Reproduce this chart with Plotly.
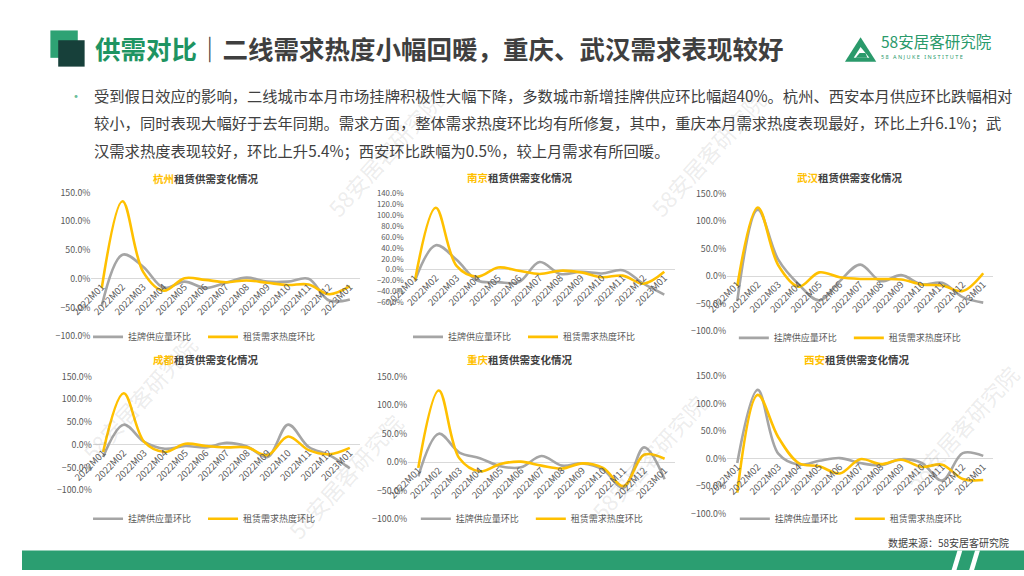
import plotly.graph_objects as go

W, H = 1024, 576

months = ["2022M01", "2022M02", "2022M03", "2022M04", "2022M05", "2022M06", "2022M07",
          "2022M08", "2022M09", "2022M10", "2022M11", "2022M12", "2023M01"]
cities = ["杭州", "南京", "武汉", "成都", "重庆", "西安"]
supply_name = "挂牌供应量环比"
demand_name = "租赁需求热度环比"

# values in percent
supply_hangzhou = [-47, 42, 21, -16, -5, -16, -7, 2, -5, -5, 0, -38, -36]
demand_hangzhou = [-16, 135, 12, -21, 1, -2, -6, -3, -7, -11, -10, -27, -13]
supply_nanjing = [-20, 45, 18, -20, -23, -23, 14, -8, -4, -7, -1, -26, -46]
demand_nanjing = [-20, 114, 7, -13, 4, -2, -8, -2, -5, -14, -11, -26, -4]
supply_wuhan = [-45, 121, 30, -15, -44, -9, 21, -9, 2, -15, -12, -38, -48]
demand_wuhan = [-18, 125, 20, -19, 7, -2, -5, -5, -6, -15, -17, -27, 5.4]
supply_chengdu = [-27, 44, 6, -9, -3, -6, 4, -4, -27, 44, -5, -23, -52]
demand_chengdu = [-16, 113, 6, -16, 2, -3, -6, -6, -23, 18, -12, -21, -7]
supply_chongqing = [-25, 50, 17, 7, -7, -9, 11, -6, -2, -13, -45, 26, -30]
demand_chongqing = [-10, 126, 7, -16, -3, 1, -6, -11, -2, -10, -42, 13, 6.1]
supply_xian = [-8, 125, 9, -11, -4, 1, -8, -12, -1, -8, -40, 10, 5]
demand_xian = [-62, 116, 39, -8, -14, -27, -1, -10, -2, -15, -11, -37, -39]

supply_series = [supply_hangzhou, supply_nanjing, supply_wuhan,
                 supply_chengdu, supply_chongqing, supply_xian]
demand_series = [demand_hangzhou, demand_nanjing, demand_wuhan,
                 demand_chengdu, demand_chongqing, demand_xian]

y_ranges = [(-100, 150), (-60, 140), (-100, 150), (-100, 150), (-100, 150), (-100, 150)]
y_dticks = [50, 20, 50, 50, 50, 50]
y_tick_sizes = [8.8, 7.8, 8.8, 8.8, 8.8, 8.8]

# plot boxes in pixels: (left, right, top, bottom)
boxes = [(71, 345.6, 190, 336.7), (391, 667, 191, 302), (720.5, 992.8, 191, 331.7),
         (72.4, 345.5, 378, 494.3), (394.5, 667.2, 378.3, 524), (720.5, 992.8, 377.7, 518.3)]
title_pos = [(188, 175), (509, 174.5), (846, 174), (188, 361), (509, 361), (853, 360.5)]
legend_pos = [(185, 337.5), (512, 337.5), (845, 338.5), (185, 523.5), (520, 523.5), (846, 523.5)]

GRAY = "#A5A5A5"
YELLOW = "#FFC000"
TXT = "#595959"
FONT = "Noto Sans CJK SC"
TICKFONT = "Liberation Sans Narrow, Arial Narrow, Noto Sans CJK SC"

fig = go.Figure()
layout = dict(width=W, height=H, margin=dict(l=0, r=0, t=0, b=0),
              paper_bgcolor="white", plot_bgcolor="rgba(0,0,0,0)", showlegend=True)


def px(x):
    return x / W


def py(y):
    return 1 - y / H


annotations = []
for i in range(6):
    n = "" if i == 0 else str(i + 1)
    xa, ya = "x" + n, "y" + n
    lg = "legend" + n
    l, r, t, b = boxes[i]
    y0, y1 = y_ranges[i]
    ydom = [py(b), py(t)]
    zero_pos = ydom[0] + (0 - y0) / (y1 - y0) * (ydom[1] - ydom[0])
    fig.add_trace(go.Scatter(x=months, y=supply_series[i], name=supply_name, mode="lines",
                             line=dict(color=GRAY, width=2.6, shape="spline", smoothing=1.0),
                             xaxis=xa, yaxis=ya, legend=lg, cliponaxis=False))
    fig.add_trace(go.Scatter(x=months, y=demand_series[i], name=demand_name, mode="lines",
                             line=dict(color=YELLOW, width=2.6, shape="spline", smoothing=1.0),
                             xaxis=xa, yaxis=ya, legend=lg, cliponaxis=False))
    layout["xaxis" + n] = dict(domain=[px(l), px(r)], anchor="free", position=zero_pos,
                               type="category", range=[-0.5, 12.5], tickangle=-45,
                               showgrid=False, zeroline=False, showline=False, ticks="",
                               tickfont=dict(family=TICKFONT, size=9.5, color=TXT),
                               fixedrange=True)
    layout["yaxis" + n] = dict(domain=ydom, anchor=xa, range=[y0, y1], dtick=y_dticks[i],
                               tick0=0, tickformat=".1f", ticksuffix="%",
                               showgrid=False, zeroline=True, zerolinecolor="#D9D9D9",
                               zerolinewidth=1, showline=False, ticks="",
                               tickfont=dict(family=TICKFONT, size=y_tick_sizes[i], color=TXT),
                               fixedrange=True)
    lx, ly = legend_pos[i]
    layout[lg] = dict(orientation="h", x=px(lx), y=py(ly),
                      xanchor="center", yanchor="middle",
                      font=dict(family=FONT, size=9, color=TXT), bgcolor="rgba(0,0,0,0)",
                      itemwidth=30, entrywidth=70, tracegroupgap=0)
    tx, ty = title_pos[i]
    annotations.append(dict(x=px(tx), y=py(ty), xref="paper", yref="paper", showarrow=False,
                            xanchor="center", yanchor="middle", align="center",
                            text="<b><span style='color:%s'>%s</span>租赁供需变化情况</b>" % (YELLOW, cities[i]),
                            font=dict(family=FONT, size=10.5, color="#404040")))

# header title
annotations.append(dict(x=px(73), y=py(41), xref="paper", yref="paper", showarrow=False,
                        xanchor="left", yanchor="middle", align="left", width=760,
                        text="<b><span style='color:#1E9462'>供需对比</span>｜二线需求热度小幅回暖，重庆、武汉需求表现较好</b>",
                        font=dict(family=FONT, size=25.5, color="#3F3F3F")))
# logo text
annotations.append(dict(x=px(876), y=py(35), xref="paper", yref="paper", showarrow=False,
                        xanchor="left", yanchor="middle", align="left", width=140,
                        text="58安居客研究院",
                        font=dict(family=FONT, size=15.5, color="#2A9A6B")))
annotations.append(dict(x=px(876), y=py(51), xref="paper", yref="paper", showarrow=False,
                        xanchor="left", yanchor="middle", align="left", width=140,
                        text="5 8   A N J U K E   I N S T I T U T E",
                        font=dict(family="Noto Sans", size=5.5, color="#2A9A6B")))
# body text
body = ["受到假日效应的影响，二线城市本月市场挂牌积极性大幅下降，多数城市新增挂牌供应环比幅超40%。杭州、西安本月供应环比跌幅相对",
        "较小，同时表现大幅好于去年同期。需求方面，整体需求热度环比均有所修复，其中，重庆本月需求热度表现最好，环比上升6.1%；武",
        "汉需求热度表现较好，环比上升5.4%；西安环比跌幅为0.5%，较上月需求有所回暖。"]
for k, line in enumerate(body):
    annotations.append(dict(x=px(72), y=py(90 + 28 * k), xref="paper", yref="paper",
                            showarrow=False, xanchor="left", yanchor="middle", align="left",
                            width=945, text=line,
                            font=dict(family=FONT, size=15.3, color="#404040")))
annotations.append(dict(x=px(55), y=py(90), xref="paper", yref="paper", showarrow=False,
                        xanchor="center", yanchor="middle", text="•",
                        font=dict(family=FONT, size=14, color="#6DBE9A")))
# source
annotations.append(dict(x=px(1011), y=py(548), xref="paper", yref="paper", showarrow=False,
                        xanchor="right", yanchor="middle", align="right", width=160,
                        text="数据来源：58安居客研究院",
                        font=dict(family=FONT, size=10, color="#404040")))
# watermarks
wm = [(370, 150), (700, 150), (330, 480), (640, 460), (120, 400), (960, 430)]
for (wx, wy) in wm:
    annotations.append(dict(x=px(wx), y=py(wy), xref="paper", yref="paper", showarrow=False,
                            xanchor="center", yanchor="middle", text="58安居客研究院",
                            textangle=-48,
                            font=dict(family=FONT, size=22, color="rgba(120,120,120,0.15)")))

layout["annotations"] = annotations

shapes = []
# header squares
shapes.append(dict(type="rect", xref="paper", yref="paper", x0=px(29), x1=px(57), y0=py(52), y1=py(24),
                   fillcolor="#2EA274", line=dict(width=0), layer="below"))
shapes.append(dict(type="rect", xref="paper", yref="paper", x0=px(37), x1=px(64), y0=py(61), y1=py(34),
                   fillcolor="#17403A", line=dict(width=0), layer="below"))
# footer band
shapes.append(dict(type="rect", xref="paper", yref="paper", x0=0, x1=1, y0=0, y1=py(556),
                   fillcolor="#2B9E71", line=dict(width=0), layer="below"))


def ppath(pts):
    return "M " + " L ".join("%f,%f" % (px(a), py(b)) for a, b in pts) + " Z"


shapes.append(dict(type="path", xref="paper", yref="paper",
                   path=ppath([(956, 556), (961, 556), (955, 576), (950, 576)]),
                   fillcolor="white", line=dict(width=0)))
shapes.append(dict(type="path", xref="paper", yref="paper",
                   path=ppath([(974, 556), (979, 556), (973, 576), (968, 576)]),
                   fillcolor="white", line=dict(width=0)))
# logo mark
shapes.append(dict(type="path", xref="paper", yref="paper",
                   path=ppath([(841, 56), (857, 31), (873, 56)]),
                   fillcolor="#2A9A6B", line=dict(width=0)))
shapes.append(dict(type="path", xref="paper", yref="paper",
                   path=ppath([(850, 52), (857, 41), (866, 52)]),
                   fillcolor="white", line=dict(width=0)))
shapes.append(dict(type="path", xref="paper", yref="paper",
                   path=ppath([(852, 52), (856, 47), (862, 47), (864, 52)]),
                   fillcolor="#2A9A6B", line=dict(width=0)))
layout["shapes"] = shapes

fig.update_layout(**layout)
fig.write_html("out.html")
